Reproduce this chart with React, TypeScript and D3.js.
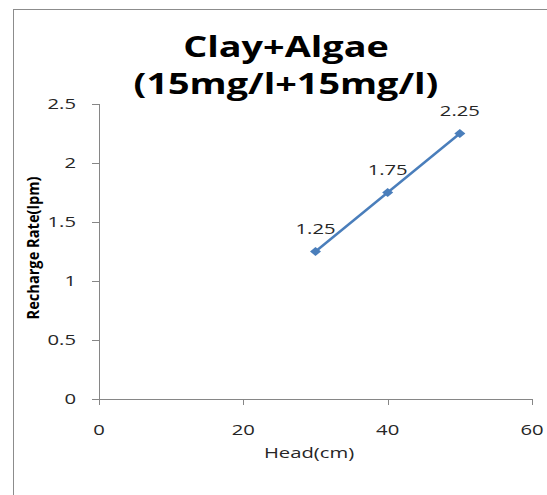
import React from "react";
import * as d3 from "d3";

const headCm = [30, 40, 50];
const rechargeLpm = [1.25, 1.75, 2.25];
const xTicks = [0, 20, 40, 60];
const yTicks = [0, 0.5, 1, 1.5, 2, 2.5];
const titleLines = ["Clay+Algae", "(15mg/l+15mg/l)"];

const SX = 1.35;
const font = "'Open Sans', sans-serif";

function T(props: { x: number; y: number; anchor?: string; size: number; bold?: boolean; fill?: string; children: any }) {
  const { x, y, anchor = "middle", size, bold, fill = "#262626", children } = props;
  return (
    <text transform={`translate(${x},${y}) scale(${SX},1)`} textAnchor={anchor} fontFamily={font}
      fontSize={size} fontWeight={bold ? "bold" : "normal"} fill={fill}>{children}</text>
  );
}

export default function App() {
  const W = 547, H = 495;
  const x = d3.scaleLinear().domain([0, 60]).range([99, 532]);
  const y = d3.scaleLinear().domain([0, 2.5]).range([399, 104]);
  const pts = headCm.map((h, i) => [h, rechargeLpm[i]] as [number, number]);
  const line = d3.line<[number, number]>().x(d => x(d[0])).y(d => y(d[1]));
  const mw = 5.5, mh = 4.5;
  const diamond = `M0,${-mh}L${mw},0L0,${mh}L${-mw},0Z`;
  const axisColor = "#868686";
  return (
    <svg width={W} height={H} style={{ position: "absolute", left: 0, top: 0, background: "#fff" }}>
      <rect x={13.5} y={9.5} width={W + 10} height={H + 10} fill="#fff" stroke="#8c8c8c" strokeWidth={1} />
      {titleLines.map((t, i) => (
        <T key={i} x={286} y={57 + i * 37} size={28} bold fill="#000">{t}</T>
      ))}
      <line x1={x(0)} x2={x(60)} y1={y(0) + 0.5} y2={y(0) + 0.5} stroke={axisColor} />
      <line x1={x(0) + 0.5} x2={x(0) + 0.5} y1={y(0)} y2={y(2.5)} stroke={axisColor} />
      {yTicks.map(v => (
        <g key={v}>
          <line x1={x(0) - 7} x2={x(0)} y1={Math.round(y(v)) + 0.5} y2={Math.round(y(v)) + 0.5} stroke={axisColor} />
          <T x={76} y={y(v) + 5} anchor="end" size={15}>{v}</T>
        </g>
      ))}
      {xTicks.map(v => (
        <g key={v}>
          <line x1={Math.round(x(v)) + 0.5} x2={Math.round(x(v)) + 0.5} y1={y(0)} y2={y(0) + 6} stroke={axisColor} />
          <T x={x(v)} y={435} size={15}>{v}</T>
        </g>
      ))}
      <T x={309} y={458} size={15}>Head(cm)</T>
      <text transform={`translate(39,248) rotate(-90)`} textAnchor="middle" fontFamily={font} fontWeight="bold"
        fontSize={16} textLength={143} lengthAdjust="spacingAndGlyphs" fill="#000">Recharge Rate(lpm)</text>
      <path d={line(pts) || ""} fill="none" stroke="#4A7EBB" strokeWidth={2.5} />
      {pts.map((p, i) => (
        <g key={i}>
          <path d={diamond} transform={`translate(${x(p[0])},${y(p[1])})`} fill="#4A7EBB" />
          <T x={x(p[0])} y={y(p[1]) - 17.5} size={15}>{p[1]}</T>
        </g>
      ))}
    </svg>
  );
}
